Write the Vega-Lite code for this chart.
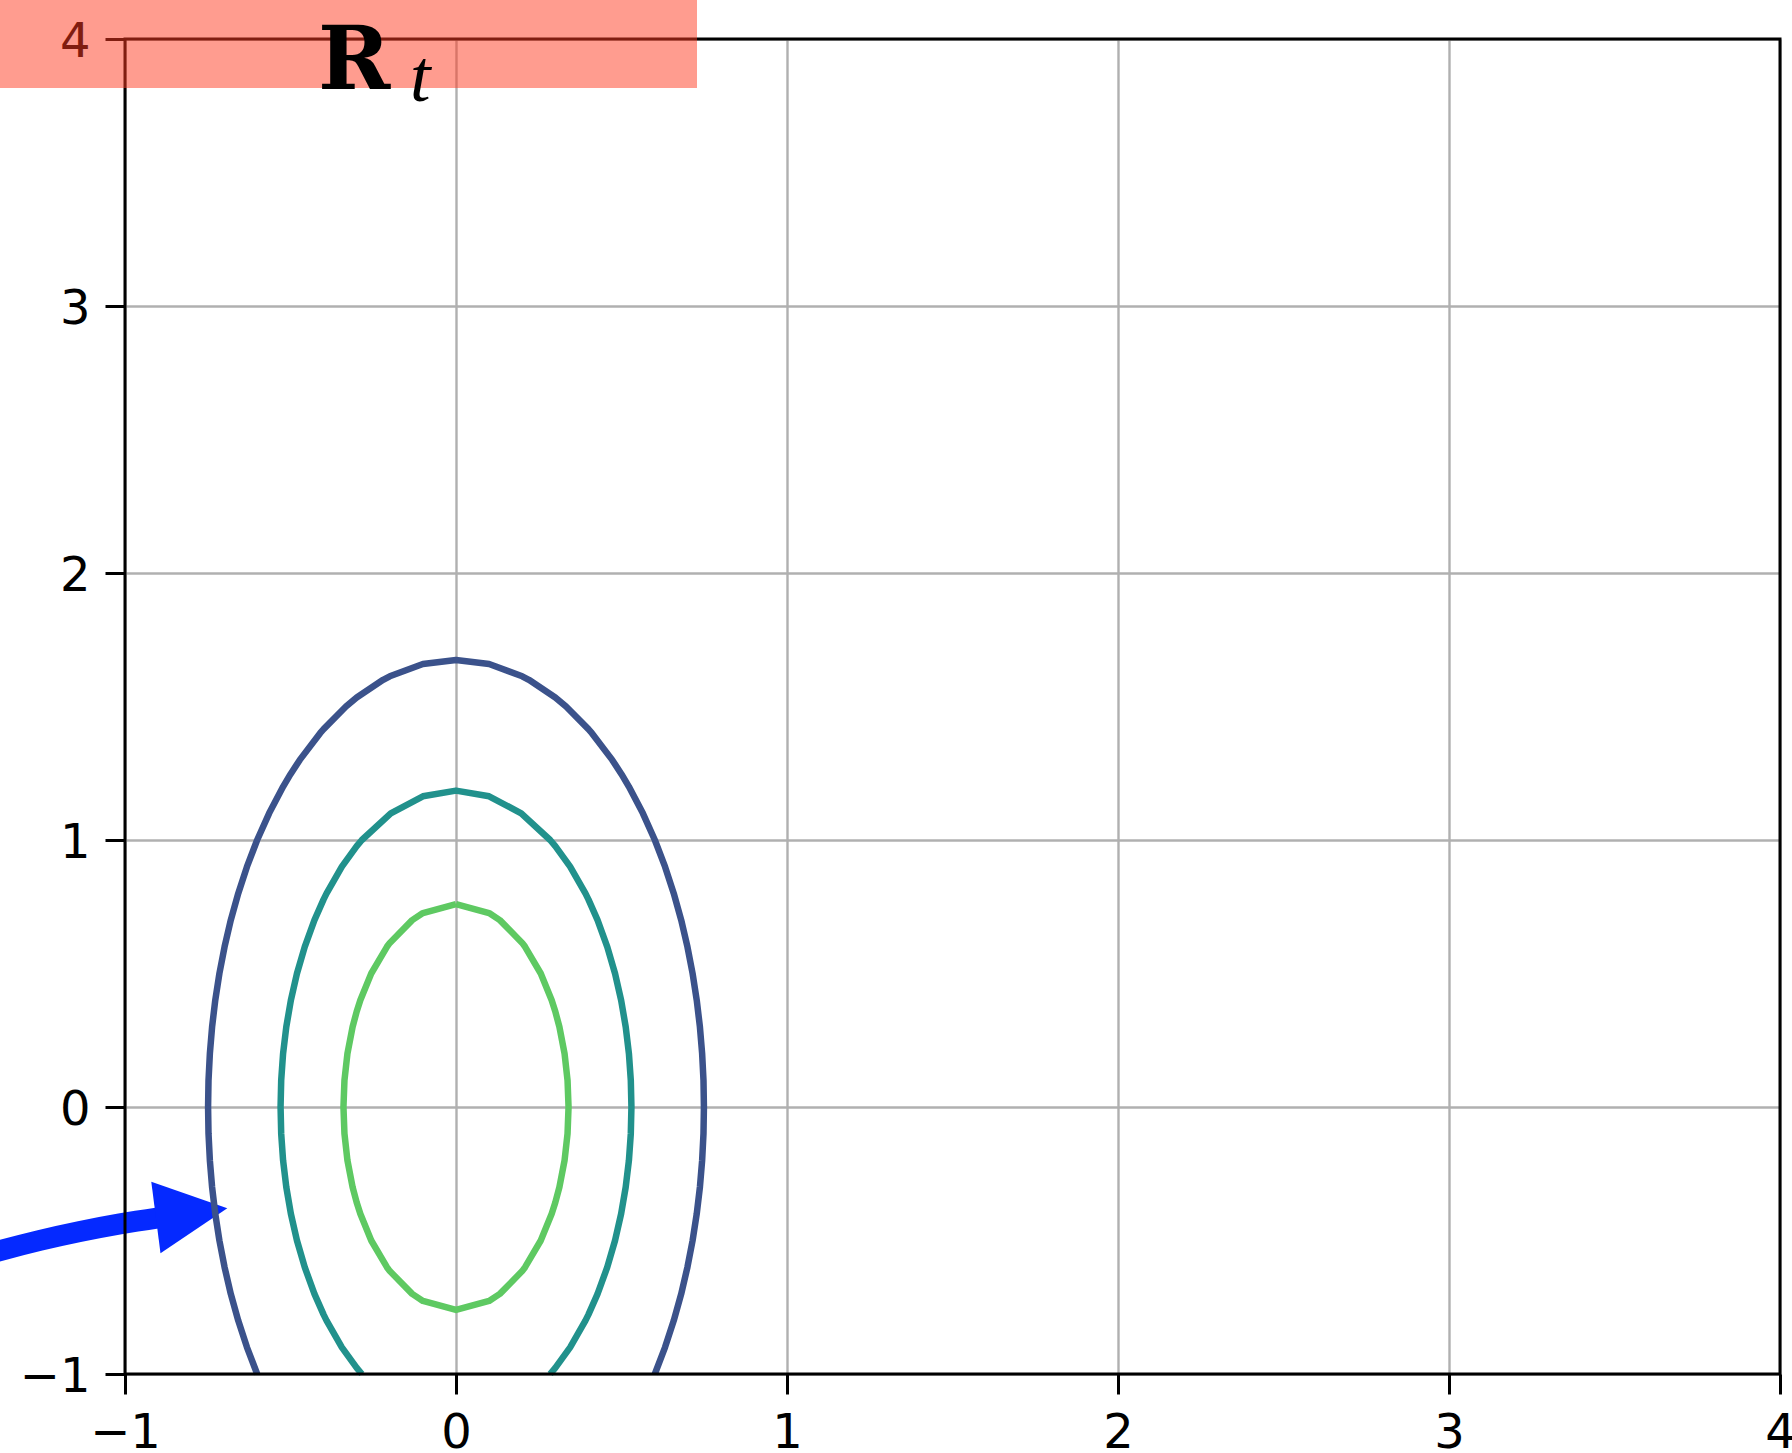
{
  "$schema": "https://vega.github.io/schema/vega-lite/v6.json",
  "width": 1655,
  "height": 1335,
  "autosize": {"type": "none"},
  "padding": {"left": 125, "top": 39, "right": 12, "bottom": 79},
  "background": "white",
  "config": {"view": {"stroke": null}},
  "encoding": {
    "x": {
      "field": "x", "type": "quantitative",
      "scale": {"domain": [-1, 4], "nice": false, "zero": false},
      "axis": {
        "values": [-1, 0, 1, 2, 3, 4], "format": "d", "title": null,
        "grid": true, "gridColor": "#b0b0b0", "gridWidth": 2.4,
        "domain": false, "tickSize": 20, "tickWidth": 3, "tickColor": "black",
        "labelFont": "DejaVu Sans", "labelFontSize": 48, "labelColor": "black",
        "labelPadding": 15, "labelFlush": false, "labelOverlap": false, "labelBound": false
      }
    },
    "y": {
      "field": "y", "type": "quantitative",
      "scale": {"domain": [-1, 4], "nice": false, "zero": false},
      "axis": {
        "values": [-1, 0, 1, 2, 3, 4], "format": "d", "title": null,
        "grid": true, "gridColor": "#b0b0b0", "gridWidth": 2.4,
        "domain": false, "tickSize": 20, "tickWidth": 3, "tickColor": "black",
        "labelFont": "DejaVu Sans", "labelFontSize": 48, "labelColor": "black",
        "labelPadding": 15, "labelOffset": 3, "labelFlush": false, "labelOverlap": false, "labelBound": false
      }
    }
  },
  "layer": [
    {
      "description": "Arrow shaft",
      "data": {"values": [
        {"step": 0, "x": -1.4381, "y": -0.5594},
        {"step": 1, "x": -1.3776, "y": -0.5382},
        {"step": 2, "x": -1.2568, "y": -0.4996},
        {"step": 3, "x": -1.136, "y": -0.4663},
        {"step": 4, "x": -1.0151, "y": -0.4378},
        {"step": 5, "x": -0.8943, "y": -0.4142}
      ]},
      "mark": {"type": "line", "color": "#0529ff", "strokeWidth": 21, "strokeCap": "butt", "interpolate": "monotone"},
      "encoding": {"order": {"field": "step", "type": "quantitative"}}
    },
    {
      "description": "Arrow head",
      "data": {"values": [{"x": -0.7988, "y": -0.3966}]},
      "mark": {"type": "point", "shape": "M -1 -1 L 1 0 L -1 1 Z", "size": 5184, "angle": 352.65, "filled": true, "color": "#0529ff", "opacity": 1, "strokeWidth": 0}
    },
    {
      "description": "Density contours",
      "data": {"values": [
        {"level": "outer", "step": 0, "x": -0.6007, "y": -1.0},
        {"level": "outer", "step": 1, "x": -0.6315, "y": -0.9},
        {"level": "outer", "step": 2, "x": -0.6579, "y": -0.8},
        {"level": "outer", "step": 3, "x": -0.6804, "y": -0.7},
        {"level": "outer", "step": 4, "x": -0.6992, "y": -0.6},
        {"level": "outer", "step": 5, "x": -0.7148, "y": -0.5},
        {"level": "outer", "step": 6, "x": -0.7273, "y": -0.4},
        {"level": "outer", "step": 7, "x": -0.7369, "y": -0.3},
        {"level": "outer", "step": 8, "x": -0.7436, "y": -0.2},
        {"level": "outer", "step": 9, "x": -0.7477, "y": -0.1},
        {"level": "outer", "step": 10, "x": -0.749, "y": 0.0},
        {"level": "outer", "step": 11, "x": -0.7477, "y": 0.1},
        {"level": "outer", "step": 12, "x": -0.7436, "y": 0.2},
        {"level": "outer", "step": 13, "x": -0.7369, "y": 0.3},
        {"level": "outer", "step": 14, "x": -0.7273, "y": 0.4},
        {"level": "outer", "step": 15, "x": -0.7148, "y": 0.5},
        {"level": "outer", "step": 16, "x": -0.6992, "y": 0.6},
        {"level": "outer", "step": 17, "x": -0.6804, "y": 0.7},
        {"level": "outer", "step": 18, "x": -0.6579, "y": 0.8},
        {"level": "outer", "step": 19, "x": -0.6315, "y": 0.9},
        {"level": "outer", "step": 20, "x": -0.6007, "y": 1.0},
        {"level": "outer", "step": 21, "x": -0.5646, "y": 1.1},
        {"level": "outer", "step": 22, "x": -0.5222, "y": 1.2},
        {"level": "outer", "step": 23, "x": -0.5, "y": 1.2464},
        {"level": "outer", "step": 24, "x": -0.4719, "y": 1.3},
        {"level": "outer", "step": 25, "x": -0.4106, "y": 1.4},
        {"level": "outer", "step": 26, "x": -0.4, "y": 1.4153},
        {"level": "outer", "step": 27, "x": -0.3325, "y": 1.5},
        {"level": "outer", "step": 28, "x": -0.3, "y": 1.5339},
        {"level": "outer", "step": 29, "x": -0.2202, "y": 1.6},
        {"level": "outer", "step": 30, "x": -0.2, "y": 1.6132},
        {"level": "outer", "step": 31, "x": -0.1, "y": 1.659},
        {"level": "outer", "step": 32, "x": 0.0, "y": 1.674},
        {"level": "outer", "step": 33, "x": 0.1, "y": 1.659},
        {"level": "outer", "step": 34, "x": 0.2, "y": 1.6132},
        {"level": "outer", "step": 35, "x": 0.2202, "y": 1.6},
        {"level": "outer", "step": 36, "x": 0.3, "y": 1.5339},
        {"level": "outer", "step": 37, "x": 0.3325, "y": 1.5},
        {"level": "outer", "step": 38, "x": 0.4, "y": 1.4153},
        {"level": "outer", "step": 39, "x": 0.4106, "y": 1.4},
        {"level": "outer", "step": 40, "x": 0.4719, "y": 1.3},
        {"level": "outer", "step": 41, "x": 0.5, "y": 1.2464},
        {"level": "outer", "step": 42, "x": 0.5222, "y": 1.2},
        {"level": "outer", "step": 43, "x": 0.5646, "y": 1.1},
        {"level": "outer", "step": 44, "x": 0.6007, "y": 1.0},
        {"level": "outer", "step": 45, "x": 0.6315, "y": 0.9},
        {"level": "outer", "step": 46, "x": 0.6579, "y": 0.8},
        {"level": "outer", "step": 47, "x": 0.6804, "y": 0.7},
        {"level": "outer", "step": 48, "x": 0.6992, "y": 0.6},
        {"level": "outer", "step": 49, "x": 0.7148, "y": 0.5},
        {"level": "outer", "step": 50, "x": 0.7273, "y": 0.4},
        {"level": "outer", "step": 51, "x": 0.7369, "y": 0.3},
        {"level": "outer", "step": 52, "x": 0.7436, "y": 0.2},
        {"level": "outer", "step": 53, "x": 0.7477, "y": 0.1},
        {"level": "outer", "step": 54, "x": 0.749, "y": 0.0},
        {"level": "outer", "step": 55, "x": 0.7477, "y": -0.1},
        {"level": "outer", "step": 56, "x": 0.7436, "y": -0.2},
        {"level": "outer", "step": 57, "x": 0.7369, "y": -0.3},
        {"level": "outer", "step": 58, "x": 0.7273, "y": -0.4},
        {"level": "outer", "step": 59, "x": 0.7148, "y": -0.5},
        {"level": "outer", "step": 60, "x": 0.6992, "y": -0.6},
        {"level": "outer", "step": 61, "x": 0.6804, "y": -0.7},
        {"level": "outer", "step": 62, "x": 0.6579, "y": -0.8},
        {"level": "outer", "step": 63, "x": 0.6315, "y": -0.9},
        {"level": "outer", "step": 64, "x": 0.6007, "y": -1.0},

        {"level": "middle", "step": 0, "x": -0.2844, "y": -1.0},
        {"level": "middle", "step": 1, "x": -0.3, "y": -0.9769},
        {"level": "middle", "step": 2, "x": -0.3448, "y": -0.9},
        {"level": "middle", "step": 3, "x": -0.391, "y": -0.8},
        {"level": "middle", "step": 4, "x": -0.4, "y": -0.7774},
        {"level": "middle", "step": 5, "x": -0.4277, "y": -0.7},
        {"level": "middle", "step": 6, "x": -0.457, "y": -0.6},
        {"level": "middle", "step": 7, "x": -0.4805, "y": -0.5},
        {"level": "middle", "step": 8, "x": -0.4989, "y": -0.4},
        {"level": "middle", "step": 9, "x": -0.5127, "y": -0.3},
        {"level": "middle", "step": 10, "x": -0.5224, "y": -0.2},
        {"level": "middle", "step": 11, "x": -0.5281, "y": -0.1},
        {"level": "middle", "step": 12, "x": -0.53, "y": 0.0},
        {"level": "middle", "step": 13, "x": -0.5281, "y": 0.1},
        {"level": "middle", "step": 14, "x": -0.5224, "y": 0.2},
        {"level": "middle", "step": 15, "x": -0.5127, "y": 0.3},
        {"level": "middle", "step": 16, "x": -0.4989, "y": 0.4},
        {"level": "middle", "step": 17, "x": -0.4805, "y": 0.5},
        {"level": "middle", "step": 18, "x": -0.457, "y": 0.6},
        {"level": "middle", "step": 19, "x": -0.4277, "y": 0.7},
        {"level": "middle", "step": 20, "x": -0.4, "y": 0.7774},
        {"level": "middle", "step": 21, "x": -0.391, "y": 0.8},
        {"level": "middle", "step": 22, "x": -0.3448, "y": 0.9},
        {"level": "middle", "step": 23, "x": -0.3, "y": 0.9769},
        {"level": "middle", "step": 24, "x": -0.2844, "y": 1.0},
        {"level": "middle", "step": 25, "x": -0.1971, "y": 1.1},
        {"level": "middle", "step": 26, "x": -0.1, "y": 1.1637},
        {"level": "middle", "step": 27, "x": 0.0, "y": 1.185},
        {"level": "middle", "step": 28, "x": 0.1, "y": 1.1637},
        {"level": "middle", "step": 29, "x": 0.1971, "y": 1.1},
        {"level": "middle", "step": 30, "x": 0.2844, "y": 1.0},
        {"level": "middle", "step": 31, "x": 0.3, "y": 0.9769},
        {"level": "middle", "step": 32, "x": 0.3448, "y": 0.9},
        {"level": "middle", "step": 33, "x": 0.391, "y": 0.8},
        {"level": "middle", "step": 34, "x": 0.4, "y": 0.7774},
        {"level": "middle", "step": 35, "x": 0.4277, "y": 0.7},
        {"level": "middle", "step": 36, "x": 0.457, "y": 0.6},
        {"level": "middle", "step": 37, "x": 0.4805, "y": 0.5},
        {"level": "middle", "step": 38, "x": 0.4989, "y": 0.4},
        {"level": "middle", "step": 39, "x": 0.5127, "y": 0.3},
        {"level": "middle", "step": 40, "x": 0.5224, "y": 0.2},
        {"level": "middle", "step": 41, "x": 0.5281, "y": 0.1},
        {"level": "middle", "step": 42, "x": 0.53, "y": 0.0},
        {"level": "middle", "step": 43, "x": 0.5281, "y": -0.1},
        {"level": "middle", "step": 44, "x": 0.5224, "y": -0.2},
        {"level": "middle", "step": 45, "x": 0.5127, "y": -0.3},
        {"level": "middle", "step": 46, "x": 0.4989, "y": -0.4},
        {"level": "middle", "step": 47, "x": 0.4805, "y": -0.5},
        {"level": "middle", "step": 48, "x": 0.457, "y": -0.6},
        {"level": "middle", "step": 49, "x": 0.4277, "y": -0.7},
        {"level": "middle", "step": 50, "x": 0.4, "y": -0.7774},
        {"level": "middle", "step": 51, "x": 0.391, "y": -0.8},
        {"level": "middle", "step": 52, "x": 0.3448, "y": -0.9},
        {"level": "middle", "step": 53, "x": 0.3, "y": -0.9769},
        {"level": "middle", "step": 54, "x": 0.2844, "y": -1.0},

        {"level": "inner", "step": 0, "x": 0.0, "y": 0.76},
        {"level": "inner", "step": 1, "x": 0.1, "y": 0.7264},
        {"level": "inner", "step": 2, "x": 0.1324, "y": 0.7},
        {"level": "inner", "step": 3, "x": 0.2, "y": 0.6146},
        {"level": "inner", "step": 4, "x": 0.2087, "y": 0.6},
        {"level": "inner", "step": 5, "x": 0.2561, "y": 0.5},
        {"level": "inner", "step": 6, "x": 0.2891, "y": 0.4},
        {"level": "inner", "step": 7, "x": 0.3, "y": 0.3577},
        {"level": "inner", "step": 8, "x": 0.3124, "y": 0.3},
        {"level": "inner", "step": 9, "x": 0.328, "y": 0.2},
        {"level": "inner", "step": 10, "x": 0.337, "y": 0.1},
        {"level": "inner", "step": 11, "x": 0.34, "y": 0.0},
        {"level": "inner", "step": 12, "x": 0.337, "y": -0.1},
        {"level": "inner", "step": 13, "x": 0.328, "y": -0.2},
        {"level": "inner", "step": 14, "x": 0.3124, "y": -0.3},
        {"level": "inner", "step": 15, "x": 0.3, "y": -0.3577},
        {"level": "inner", "step": 16, "x": 0.2891, "y": -0.4},
        {"level": "inner", "step": 17, "x": 0.2561, "y": -0.5},
        {"level": "inner", "step": 18, "x": 0.2087, "y": -0.6},
        {"level": "inner", "step": 19, "x": 0.2, "y": -0.6146},
        {"level": "inner", "step": 20, "x": 0.1324, "y": -0.7},
        {"level": "inner", "step": 21, "x": 0.1, "y": -0.7264},
        {"level": "inner", "step": 22, "x": 0.0, "y": -0.76},
        {"level": "inner", "step": 23, "x": -0.1, "y": -0.7264},
        {"level": "inner", "step": 24, "x": -0.1324, "y": -0.7},
        {"level": "inner", "step": 25, "x": -0.2, "y": -0.6146},
        {"level": "inner", "step": 26, "x": -0.2087, "y": -0.6},
        {"level": "inner", "step": 27, "x": -0.2561, "y": -0.5},
        {"level": "inner", "step": 28, "x": -0.2891, "y": -0.4},
        {"level": "inner", "step": 29, "x": -0.3, "y": -0.3577},
        {"level": "inner", "step": 30, "x": -0.3124, "y": -0.3},
        {"level": "inner", "step": 31, "x": -0.328, "y": -0.2},
        {"level": "inner", "step": 32, "x": -0.337, "y": -0.1},
        {"level": "inner", "step": 33, "x": -0.34, "y": 0.0},
        {"level": "inner", "step": 34, "x": -0.337, "y": 0.1},
        {"level": "inner", "step": 35, "x": -0.328, "y": 0.2},
        {"level": "inner", "step": 36, "x": -0.3124, "y": 0.3},
        {"level": "inner", "step": 37, "x": -0.3, "y": 0.3577},
        {"level": "inner", "step": 38, "x": -0.2891, "y": 0.4},
        {"level": "inner", "step": 39, "x": -0.2561, "y": 0.5},
        {"level": "inner", "step": 40, "x": -0.2087, "y": 0.6},
        {"level": "inner", "step": 41, "x": -0.2, "y": 0.6146},
        {"level": "inner", "step": 42, "x": -0.1324, "y": 0.7},
        {"level": "inner", "step": 43, "x": -0.1, "y": 0.7264},
        {"level": "inner", "step": 44, "x": 0.0, "y": 0.76}
      ]},
      "mark": {"type": "line", "strokeJoin": "round"},
      "encoding": {
        "color": {
          "field": "level", "type": "nominal",
          "scale": {"domain": ["outer", "middle", "inner"], "range": ["#3b528b", "#21918c", "#5ec962"]},
          "legend": null
        },
        "strokeWidth": {"value": 6.5},
        "order": {"field": "step", "type": "quantitative"}
      }
    },
    {
      "description": "Plot frame",
      "data": {"values": [{"x": -1, "x2": 4, "y": -1, "y2": 4}]},
      "mark": {"type": "rect", "filled": false, "color": "black", "strokeWidth": 3},
      "encoding": {"x2": {"field": "x2"}, "y2": {"field": "y2"}}
    },
    {
      "description": "Header band",
      "data": {"values": [{"x": -1.4, "x2": 0.7281, "y": 3.8165, "y2": 4.2}]},
      "mark": {"type": "rect", "color": "#ff3a1f", "opacity": 0.5},
      "encoding": {"x2": {"field": "x2"}, "y2": {"field": "y2"}}
    },
    {
      "description": "Bold R of the header",
      "data": {"values": [{"label": "R", "x": -0.4169, "y": 3.8116}]},
      "mark": {"type": "text", "align": "left", "baseline": "alphabetic", "font": "DejaVu Serif", "fontWeight": "bold", "fontSize": 87, "color": "black"},
      "encoding": {"text": {"field": "label"}}
    },
    {
      "description": "Italic subscript t",
      "data": {"values": [{"label": "t", "x": -0.139, "y": 3.766}]},
      "mark": {"type": "text", "align": "left", "baseline": "alphabetic", "font": "Liberation Serif", "fontStyle": "italic", "fontSize": 74, "color": "black"},
      "encoding": {"text": {"field": "label"}}
    }
  ]
}
